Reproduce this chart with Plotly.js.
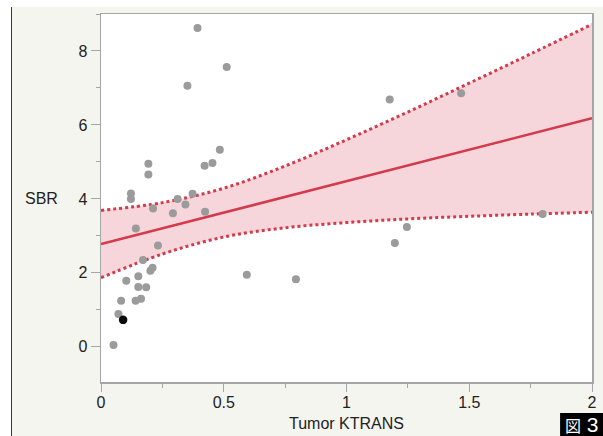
<!DOCTYPE html>
<html>
<head>
<meta charset="utf-8">
<script src="https://cdn.plot.ly/plotly-3.0.1.min.js"></script>
<style>
  html, body { margin: 0; padding: 0; background: #ffffff; width: 603px; height: 436px; overflow: hidden; }
  #wrap { position: absolute; left: 11px; top: 7px; width: 591px; height: 429px; border-left: 1px solid #3a3a3a; background: #f5f5f0; }
  #chart { width: 591px; height: 429px; }
</style>
</head>
<body>
<div id="wrap"><div id="chart"></div></div>
<script>
// Scatter data: Tumor KTRANS vs SBR
const ktrans = [0.393, 0.512, 0.352, 0.484, 0.454, 0.422, 0.193, 0.193, 0.122, 0.122,
                0.373, 0.312, 0.212, 0.344, 0.293, 0.424, 0.142, 0.232, 0.171, 0.210,
                0.201, 0.594, 0.103, 0.152, 0.152, 0.184, 0.082, 0.141, 0.163, 0.071,
                0.051, 1.176, 1.467, 0.794, 1.197, 1.246, 1.799];
const sbr    = [8.62, 7.57, 7.06, 5.33, 4.97, 4.90, 4.95, 4.66, 4.15, 4.00,
                4.14, 4.00, 3.74, 3.85, 3.61, 3.65, 3.20, 2.74, 2.35, 2.14,
                2.06, 1.95, 1.79, 1.91, 1.62, 1.61, 1.25, 1.25, 1.30, 0.89,
                0.05, 6.69, 6.86, 1.83, 2.81, 3.24, 3.59];
// Highlighted point
const hiX = [0.090];
const hiY = [0.73];

// Fit line and confidence band
const bandX = [0, 0.25, 0.5, 0.75, 1, 1.25, 1.5, 1.75, 2];
const fitY  = [2.78, 3.205, 3.63, 4.055, 4.48, 4.905, 5.33, 5.755, 6.18];
const upperY = [3.69, 3.90, 4.29, 4.89, 5.60, 6.35, 7.13, 7.92, 8.72];
const lowerY = [1.87, 2.51, 2.97, 3.22, 3.36, 3.46, 3.53, 3.59, 3.64];

const xTicks = [0, 0.5, 1, 1.5, 2];
const xTickText = ['0', '0.5', '1', '1.5', '2'];
const yTicks = [0, 2, 4, 6, 8];
const yTickText = ['0', '2', '4', '6', '8'];

const red = '#d33a4c';
const traces = [
  { x: bandX, y: lowerY, mode: 'lines', line: { width: 0, shape: 'spline' }, hoverinfo: 'skip', showlegend: false },
  { x: bandX, y: upperY, mode: 'lines', line: { width: 0, shape: 'spline' }, fill: 'tonexty', fillcolor: '#f7d6db', hoverinfo: 'skip', showlegend: false },
  { x: bandX, y: upperY, mode: 'lines', line: { color: red, width: 3, dash: '3px,3px', shape: 'spline' }, showlegend: false },
  { x: bandX, y: lowerY, mode: 'lines', line: { color: red, width: 3, dash: '3px,3px', shape: 'spline' }, showlegend: false },
  { x: bandX, y: fitY, mode: 'lines', line: { color: red, width: 2.5 }, showlegend: false },
  { x: ktrans, y: sbr, mode: 'markers', marker: { color: '#9b9b9b', size: 8 }, showlegend: false },
  { x: hiX, y: hiY, mode: 'markers', marker: { color: '#0a0a0a', size: 8.5 }, showlegend: false }
];

const axisFont = { family: 'Liberation Sans, Arial, sans-serif', size: 16, color: '#222' };
const layout = {
  width: 591, height: 429,
  margin: { l: 89, r: 11, t: 7, b: 54 },
  paper_bgcolor: '#f5f5f0',
  plot_bgcolor: '#ffffff',
  font: axisFont,
  xaxis: {
    range: [0, 2], tickvals: xTicks, ticktext: xTickText,
    showgrid: false, zeroline: false,
    showline: true, mirror: true, linecolor: '#a6a6a6', linewidth: 1.5,
    ticks: 'outside', ticklen: 8, tickcolor: '#a6a6a6', tickwidth: 1,
    ticklabelstandoff: -3,
    minor: { dtick: 0.25, tick0: 0, ticks: 'outside', ticklen: 4, tickcolor: '#a6a6a6', showgrid: false },
    tickfont: axisFont
  },
  yaxis: {
    range: [-0.95, 9.0], tickvals: yTicks, ticktext: yTickText,
    showgrid: false, zeroline: false,
    showline: true, mirror: true, linecolor: '#a6a6a6', linewidth: 1.5,
    ticks: 'outside', ticklen: 9, tickcolor: '#a6a6a6', tickwidth: 1,
    minor: { dtick: 1, tick0: 0, ticks: 'outside', ticklen: 4, tickcolor: '#a6a6a6', showgrid: false },
    tickfont: axisFont
  },
  shapes: [
    { type: 'rect', xref: 'paper', yref: 'paper', x0: 0.935, x1: 1.03, y0: -0.17, y1: -0.0842,
      fillcolor: '#000000', line: { width: 0 }, layer: 'above' }
  ],
  annotations: [
    { text: 'SBR', xref: 'paper', yref: 'y', x: -0.122, y: 4, xanchor: 'center', yanchor: 'middle', showarrow: false, font: axisFont },
    { text: 'Tumor KTRANS', xref: 'x', yref: 'paper', x: 1, y: -0.114, xanchor: 'center', yanchor: 'middle', showarrow: false, font: axisFont },
    { text: '<span style="font-size:16px">図</span> 3', xref: 'paper', yref: 'paper', x: 0.979, y: -0.116, xanchor: 'center', yanchor: 'middle',
      showarrow: false, borderpad: 0,
      font: { family: 'Liberation Sans, Noto Sans CJK JP, sans-serif', size: 21, color: '#ffffff' } }
  ]
};

Plotly.newPlot('chart', traces, layout, { displayModeBar: false, staticPlot: true });
</script>
</body>
</html>
